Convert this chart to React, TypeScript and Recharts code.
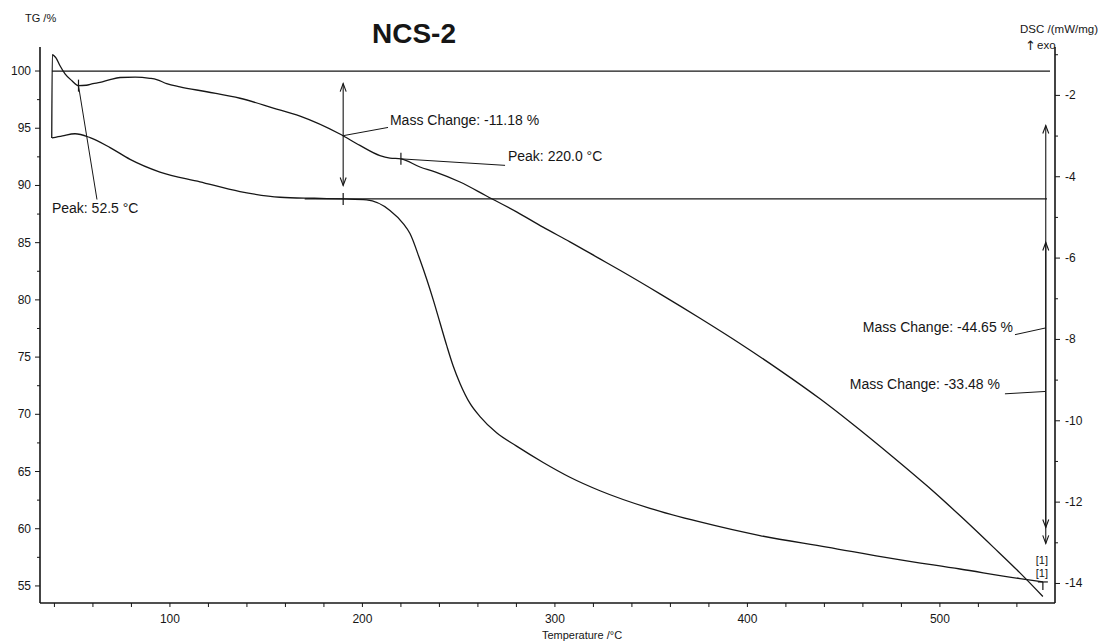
import React from "react";
import { LineChart, Line, XAxis, YAxis, ReferenceLine, ReferenceDot } from "recharts";

const FONT = '"Liberation Sans", Arial, Helvetica, sans-serif';
const INK = "#161616";

// DSC trace (mW/mg) against temperature (°C)
const dscTemp = [38.6, 38.9, 40.8, 42.9, 45.5, 49.1, 52.5, 56.5, 60.0, 63.7, 68.9, 74.1, 82.0, 89.6, 93.1, 98.3, 105.2, 119.1, 136.4, 153.7, 167.6, 188.3, 198.7, 209.1, 214.3, 220.0, 229.9, 237.7, 250.7, 264.0, 280.3, 293.8, 307.8, 323.4, 333.8, 354.6, 375.4, 396.1, 416.9, 437.7, 453.3, 475.6, 493.3, 510.4, 527.6, 541.6, 553.5];
const dscValue = [-3.05, -1.0, -1.08, -1.27, -1.47, -1.64, -1.76, -1.75, -1.71, -1.68, -1.61, -1.56, -1.55, -1.58, -1.61, -1.71, -1.79, -1.91, -2.07, -2.31, -2.51, -2.95, -3.23, -3.48, -3.54, -3.56, -3.76, -3.88, -4.13, -4.46, -4.87, -5.24, -5.6, -6.02, -6.3, -6.88, -7.48, -8.1, -8.76, -9.46, -10.03, -10.89, -11.6, -12.33, -13.1, -13.74, -14.32];

// TG trace (%) against temperature (°C)
const tgTemp = [38.7, 44.2, 50.7, 58.5, 68.9, 79.3, 94.8, 115.6, 136.4, 157.2, 175.0, 190.0, 202.2, 214.3, 221.2, 224.7, 229.9, 233.4, 236.8, 240.3, 243.8, 247.2, 250.7, 255.9, 261.1, 269.7, 280.1, 293.9, 307.8, 323.4, 349.4, 375.4, 406.5, 441.3, 475.6, 510.4, 541.6, 553.5];
const tgValue = [94.15, 94.34, 94.52, 94.18, 93.31, 92.28, 91.17, 90.32, 89.47, 88.97, 88.88, 88.82, 88.74, 87.82, 86.67, 85.8, 83.5, 81.8, 80.0, 78.0, 76.0, 74.2, 72.7, 70.95, 69.8, 68.38, 67.22, 65.79, 64.5, 63.32, 61.78, 60.59, 59.4, 58.4, 57.39, 56.48, 55.64, 55.35];

// Axis ticks
const xTicks = [40, 60, 80, 100, 120, 140, 160, 180, 200, 220, 240, 260, 280, 300, 320, 340, 360, 380, 400, 420, 440, 460, 480, 500, 520, 540];
const xLabelTicks = [100, 200, 300, 400, 500];
const tgTicks = [55, 57.5, 60, 62.5, 65, 67.5, 70, 72.5, 75, 77.5, 80, 82.5, 85, 87.5, 90, 92.5, 95, 97.5, 100];
const tgLabelTicks = [55, 60, 65, 70, 75, 80, 85, 90, 95, 100];
const dscTicks = [-14, -13, -12, -11, -10, -9, -8, -7, -6, -5, -4, -3, -2, -1];
const dscLabelTicks = [-14, -12, -10, -8, -6, -4, -2];

// Evaluation results
const peaks = [52.5, 220.0];
const massChanges = [-11.18, -33.48, -44.65];
const stepTemp = 190.0;
const tgStart = 100;
const tgStep = tgStart + massChanges[0];
const tgEnd = tgStart + massChanges[2];

const dscData = dscTemp.map((t, i) => ({ t, v: dscValue[i] }));
const tgData = tgTemp.map((t, i) => ({ t, v: tgValue[i] }));

const dscAt = (t: number) => {
  for (let i = 1; i < dscTemp.length; i++) {
    if (t <= dscTemp[i]) {
      const f = (t - dscTemp[i - 1]) / (dscTemp[i] - dscTemp[i - 1]);
      return dscValue[i - 1] + f * (dscValue[i] - dscValue[i - 1]);
    }
  }
  return dscValue[dscValue.length - 1];
};

const XTick = (p: any) => {
  const v = p.payload.value;
  return (
    <g>
      <line x1={p.x} y1={p.y} x2={p.x} y2={p.y + 4} stroke={INK} strokeWidth={1} />
      {xLabelTicks.includes(v) && (
        <text x={p.x} y={p.y + 20} textAnchor="middle" fontSize={12} fontFamily={FONT} fill={INK}>
          {v}
        </text>
      )}
    </g>
  );
};

const LeftTick = (p: any) => {
  const v = p.payload.value;
  const major = tgLabelTicks.includes(v);
  return (
    <g>
      <line x1={p.x - (major ? 5 : 3)} y1={p.y} x2={p.x} y2={p.y} stroke={INK} strokeWidth={1} />
      {major && (
        <text x={p.x - 9} y={p.y + 4} textAnchor="end" fontSize={12} fontFamily={FONT} fill={INK}>
          {v}
        </text>
      )}
    </g>
  );
};

const RightTick = (p: any) => {
  const v = p.payload.value;
  const major = dscLabelTicks.includes(v);
  return (
    <g>
      <line x1={p.x} y1={p.y} x2={p.x + (major ? 5 : 3)} y2={p.y} stroke={INK} strokeWidth={1} />
      {major && (
        <text x={p.x + 10} y={p.y + 4} textAnchor="start" fontSize={12} fontFamily={FONT} fill={INK}>
          {v}
        </text>
      )}
    </g>
  );
};

// Double-headed vertical arrow used for the mass-change spans
const doubleArrow = (p: any) => {
  const x = p.x1;
  const top = Math.min(p.y1, p.y2);
  const bot = Math.max(p.y1, p.y2);
  return (
    <g stroke={INK} strokeWidth={1.1} fill="none">
      <line x1={x} y1={top} x2={x} y2={bot} />
      <polyline points={`${x - 3},${top + 8} ${x},${top} ${x + 3},${top + 8}`} />
      <polyline points={`${x - 3},${bot - 8} ${x},${bot} ${x + 3},${bot - 8}`} />
    </g>
  );
};

const crossMark = (p: any) => (
  <line x1={p.cx} y1={p.cy - 6} x2={p.cx} y2={p.cy + 6} stroke={INK} strokeWidth={1.2} />
);

const endMark = (p: any) => (
  <g stroke={INK} strokeWidth={1.2}>
    <line x1={p.cx - 5} y1={p.cy} x2={p.cx + 5} y2={p.cy} />
    <line x1={p.cx} y1={p.cy} x2={p.cx} y2={p.cy + 8} />
  </g>
);

const textShape = (label: string, size: number, anchor: "start" | "middle" | "end" = "start") => (p: any) => (
  <text
    x={p.cx}
    y={p.cy}
    textAnchor={anchor}
    dominantBaseline="central"
    fontSize={size}
    fontFamily={FONT}
    fill={INK}
  >
    {label}
  </text>
);

const fmt = (v: number) => `Mass Change: ${v.toFixed(2)} %`;

export default function App() {
  return (
    <div style={{ position: "absolute", left: 0, top: 0, width: 1101, height: 643, background: "#fff" }}>
      <LineChart width={1101} height={643} margin={{ top: 47, right: 0, bottom: 0, left: 0 }}>
        <XAxis
          type="number"
          dataKey="t"
          domain={[32.5, 559.8]}
          ticks={xTicks}
          interval={0}
          allowDataOverflow
          height={40}
          tickSize={0}
          tickMargin={0}
          tickLine={false}
          axisLine={{ stroke: INK, strokeWidth: 1.3 }}
          tick={(p: any) => <XTick {...p} />}
        />
        <YAxis
          yAxisId="tg"
          orientation="left"
          type="number"
          domain={[53.51, 102.1]}
          ticks={tgTicks}
          interval={0}
          allowDataOverflow
          width={40}
          tickSize={0}
          tickMargin={0}
          tickLine={false}
          axisLine={{ stroke: INK, strokeWidth: 1.6 }}
          tick={(p: any) => <LeftTick {...p} />}
        />
        <YAxis
          yAxisId="dsc"
          orientation="right"
          type="number"
          domain={[-14.48, -0.81]}
          ticks={dscTicks}
          interval={0}
          allowDataOverflow
          width={46}
          tickSize={0}
          tickMargin={0}
          tickLine={false}
          axisLine={{ stroke: INK, strokeWidth: 1.6 }}
          tick={(p: any) => <RightTick {...p} />}
        />

        {/* TG reference levels */}
        <ReferenceLine
          yAxisId="tg"
          segment={[{ x: 38.7, y: tgStart }, { x: 557.2, y: tgStart }]}
          stroke={INK}
          strokeWidth={1.3}
        />
        <ReferenceLine
          yAxisId="tg"
          segment={[{ x: 170, y: tgStep }, { x: 555.6, y: tgStep }]}
          stroke={INK}
          strokeWidth={1.3}
        />

        <Line
          yAxisId="dsc"
          data={dscData}
          dataKey="v"
          type="monotone"
          stroke={INK}
          strokeWidth={1.3}
          dot={false}
          isAnimationActive={false}
        />
        <Line
          yAxisId="tg"
          data={tgData}
          dataKey="v"
          type="monotone"
          stroke={INK}
          strokeWidth={1.3}
          dot={false}
          isAnimationActive={false}
        />

        {/* first mass step */}
        <ReferenceLine
          yAxisId="tg"
          segment={[{ x: stepTemp, y: 98.9 }, { x: stepTemp, y: 90.0 }]}
          shape={doubleArrow}
        />
        <ReferenceLine
          yAxisId="tg"
          segment={[{ x: stepTemp, y: 94.35 }, { x: 213.3, y: 95.07 }]}
          stroke={INK}
          strokeWidth={1}
        />
        <ReferenceDot yAxisId="tg" x={214.3} y={95.68} shape={textShape(fmt(massChanges[0]), 14)} />
        <ReferenceDot yAxisId="tg" x={stepTemp} y={tgStep} shape={crossMark} />

        {/* DSC peaks */}
        <ReferenceDot yAxisId="dsc" x={peaks[0]} y={dscAt(peaks[0])} shape={crossMark} />
        <ReferenceLine
          yAxisId="dsc"
          segment={[{ x: peaks[0], y: dscAt(peaks[0]) }, { x: 62.1, y: -4.56 }]}
          stroke={INK}
          strokeWidth={1}
        />
        <ReferenceDot yAxisId="dsc" x={38.7} y={-4.77} shape={textShape(`Peak: ${peaks[0].toFixed(1)} °C`, 14)} />

        <ReferenceDot yAxisId="dsc" x={peaks[1]} y={dscAt(peaks[1])} shape={crossMark} />
        <ReferenceLine
          yAxisId="dsc"
          segment={[{ x: peaks[1], y: dscAt(peaks[1]) }, { x: 274.1, y: -3.72 }]}
          stroke={INK}
          strokeWidth={1}
        />
        <ReferenceDot yAxisId="dsc" x={275.6} y={-3.5} shape={textShape(`Peak: ${peaks[1].toFixed(1)} °C`, 14)} />

        {/* total and second mass change spans */}
        <ReferenceLine
          yAxisId="tg"
          segment={[{ x: 555, y: 95.24 }, { x: 555, y: 60.11 }]}
          shape={doubleArrow}
        />
        <ReferenceLine
          yAxisId="tg"
          segment={[{ x: 555, y: 85.02 }, { x: 555, y: 58.72 }]}
          shape={doubleArrow}
        />
        <ReferenceLine
          yAxisId="tg"
          segment={[{ x: 539.0, y: 76.96 }, { x: 555, y: 77.55 }]}
          stroke={INK}
          strokeWidth={1}
        />
        <ReferenceDot yAxisId="tg" x={538.0} y={77.6} shape={textShape(fmt(massChanges[2]), 14, "end")} />
        <ReferenceLine
          yAxisId="tg"
          segment={[{ x: 533.8, y: 71.79 }, { x: 555, y: 72.0 }]}
          stroke={INK}
          strokeWidth={1}
        />
        <ReferenceDot yAxisId="tg" x={531.2} y={72.61} shape={textShape(fmt(massChanges[1]), 14, "end")} />

        {/* curve end labels */}
        <ReferenceDot yAxisId="tg" x={553.0} y={57.23} shape={textShape("[1]", 11, "middle")} />
        <ReferenceDot yAxisId="tg" x={553.0} y={56.1} shape={textShape("[1]", 11, "middle")} />
        <ReferenceDot yAxisId="tg" x={553.5} y={tgEnd} shape={endMark} />
      </LineChart>

      <svg
        width={1101}
        height={643}
        style={{ position: "absolute", left: 0, top: 0, pointerEvents: "none" }}
      >
        <text x={414} y={43} textAnchor="middle" fontSize={28} fontWeight="bold" fontFamily={FONT} fill={INK}>
          NCS-2
        </text>
        <text x={25} y={22} fontSize={11} fontFamily={FONT} fill={INK}>
          TG /%
        </text>
        <text x={1098} y={33} textAnchor="end" fontSize={11.5} fontFamily={FONT} fill={INK}>
          DSC /(mW/mg)
        </text>
        <text x={1036} y={50} textAnchor="end" fontSize={13} fontFamily='"DejaVu Sans", sans-serif' fill={INK}>
          ↑
        </text>
        <text x={1037} y={49} textAnchor="start" fontSize={11.5} fontFamily={FONT} fill={INK}>
          exo
        </text>
        <text x={582} y={639} textAnchor="middle" fontSize={11} fontFamily={FONT} fill={INK}>
          Temperature /°C
        </text>
      </svg>
    </div>
  );
}
